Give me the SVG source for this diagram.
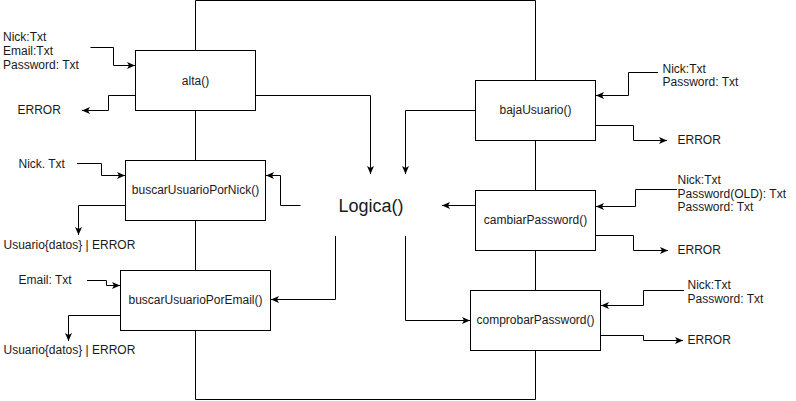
<svg xmlns="http://www.w3.org/2000/svg" width="796" height="401" viewBox="0 0 796 401">
<style>
  .box{fill:#fff;stroke:#000;stroke-width:1}
  .ln{fill:none;stroke:#000;stroke-width:1}
  .arr{fill:none;stroke:#000;stroke-width:1;marker-end:url(#ah)}
  text{font-family:"Liberation Sans",Arial,sans-serif;font-size:12px;fill:#1a1a1a}
  .c{text-anchor:middle}
  .big{font-size:18px}
</style>
<defs>
  <marker id="ah" viewBox="0 0 10 8" refX="9" refY="4" markerWidth="10" markerHeight="8" markerUnits="userSpaceOnUse" orient="auto">
    <path d="M1,0.5 L9,4 L1,7.5 L3,4 Z" fill="#000"/>
  </marker>
</defs>
<rect width="796" height="401" fill="#fff"/>

<g id="connectors">
  <path class="ln" d="M195.5,50.5 V0.5 H535.5 V80.5"/>
  <path class="ln" d="M195.5,330.5 V399.5 H535.5 V350.5"/>
  <path class="ln" d="M195.5,110.5 V160.5"/>
  <path class="ln" d="M195.5,220.5 V270.5"/>
  <path class="ln" d="M535.5,140.5 V190.5"/>
  <path class="ln" d="M535.5,250.5 V290.5"/>

  <path class="arr" d="M255.5,95.5 H370.5 V174"/>
  <path class="arr" d="M475.5,110.5 H405.5 V174"/>
  <path class="arr" d="M300.5,205.5 H280.5 V175.5 H266"/>
  <path class="arr" d="M475.5,205.5 H442"/>
  <path class="arr" d="M335.5,236 V299.5 H271"/>
  <path class="arr" d="M405.5,236 V320.5 H470"/>

  <path class="arr" d="M90.5,47.5 H113.5 V65.5 H135"/>
  <path class="arr" d="M135.5,95.5 H108.5 V110.5 H82"/>
  <path class="arr" d="M77,163.5 H101.5 V175.5 H125"/>
  <path class="arr" d="M125.5,205.5 H78.5 V235"/>
  <path class="arr" d="M87,280.5 H106.5 V285.5 H120"/>
  <path class="arr" d="M120.5,315.5 H68.5 V341"/>

  <path class="arr" d="M658,72.5 H628.5 V95.5 H596"/>
  <path class="arr" d="M595.5,125.5 H633.5 V140.5 H667"/>
  <path class="arr" d="M677,189.5 H635.5 V206.5 H596"/>
  <path class="arr" d="M595.5,235.5 H633.5 V250.5 H668"/>
  <path class="arr" d="M684,290.5 H643.5 V305.5 H601"/>
  <path class="arr" d="M600.5,335.5 H643.5 V340.5 H683"/>
</g>

<g id="alta">
  <rect class="box" x="135.5" y="50.5" width="120" height="60"/>
  <text class="c" x="195.5" y="84.8">alta()</text>
</g>
<g id="buscarUsuarioPorNick">
  <rect class="box" x="125.5" y="160.5" width="140" height="60"/>
  <text class="c" x="195.5" y="194.3">buscarUsuarioPorNick()</text>
</g>
<g id="buscarUsuarioPorEmail">
  <rect class="box" x="120.5" y="270.5" width="150" height="60"/>
  <text class="c" x="195.5" y="304.3">buscarUsuarioPorEmail()</text>
</g>
<g id="bajaUsuario">
  <rect class="box" x="475.5" y="80.5" width="120" height="60"/>
  <text class="c" x="535.5" y="114.3">bajaUsuario()</text>
</g>
<g id="cambiarPassword">
  <rect class="box" x="475.5" y="190.5" width="120" height="60"/>
  <text class="c" x="535.5" y="224.3">cambiarPassword()</text>
</g>
<g id="comprobarPassword">
  <rect class="box" x="470.5" y="290.5" width="130" height="60"/>
  <text class="c" x="535.5" y="324.3">comprobarPassword()</text>
</g>
<g id="logica">
  <text class="c big" x="371" y="211.5">Logica()</text>
</g>

<g id="labels">
  <text x="3" y="40.5">Nick:Txt</text>
  <text x="3" y="54.5">Email:Txt</text>
  <text x="3" y="68.5">Password: Txt</text>
  <text x="17.5" y="113.6">ERROR</text>
  <text x="18.5" y="167.6">Nick. Txt</text>
  <text x="3.5" y="249.3">Usuario{datos} | ERROR</text>
  <text x="18.5" y="284.3">Email: Txt</text>
  <text x="3.5" y="354.3">Usuario{datos} | ERROR</text>

  <text x="662.5" y="72.6">Nick:Txt</text>
  <text x="662.5" y="86">Password: Txt</text>
  <text x="677.5" y="144.3">ERROR</text>
  <text x="677.5" y="184.3">Nick:Txt</text>
  <text x="677.5" y="197.6">Password(OLD): Txt</text>
  <text x="677.5" y="211">Password: Txt</text>
  <text x="677.5" y="254.3">ERROR</text>
  <text x="687.5" y="289.3">Nick:Txt</text>
  <text x="687.5" y="302.6">Password: Txt</text>
  <text x="687.5" y="344.3">ERROR</text>
</g>
</svg>
